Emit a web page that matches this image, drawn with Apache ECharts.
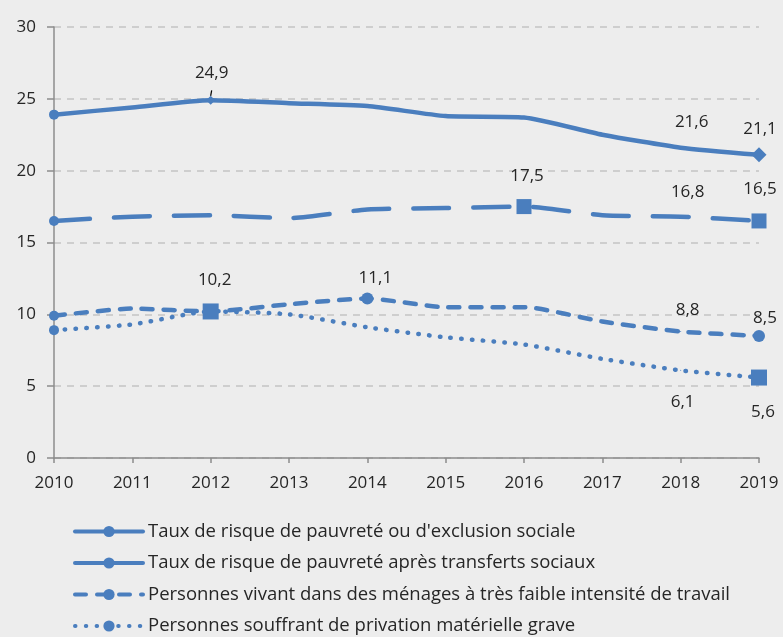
<!DOCTYPE html>
<html><head><meta charset="utf-8">
<script src="https://cdn.jsdelivr.net/npm/echarts@6/dist/echarts.min.js"></script>
<style>html,body{margin:0;padding:0;background:#ededed}#c{width:783px;height:637px}</style>
</head><body><div id="c"></div>
<script>
const years = ['2010','2011','2012','2013','2014','2015','2016','2017','2018','2019'];
const seriesNames = [
  "Taux de risque de pauvreté ou d'exclusion sociale",
  "Taux de risque de pauvreté après transferts sociaux",
  "Personnes vivant dans des ménages à très faible intensité de travail",
  "Personnes souffrant de privation matérielle grave"
];
const arope = [23.9, 24.4, 24.9, 24.7, 24.5, 23.8, 23.7, 22.5, 21.6, 21.1];
const povertyAfterTransfers = [16.5, 16.8, 16.9, 16.7, 17.3, 17.4, 17.5, 16.9, 16.8, 16.5];
const lowWorkIntensity = [9.9, 10.4, 10.2, 10.7, 11.1, 10.5, 10.5, 9.5, 8.8, 8.5];
const materialDeprivation = [8.9, 9.3, 10.2, 10.0, 9.1, 8.4, 7.9, 6.9, 6.1, 5.6];
const yTicks = [0, 5, 10, 15, 20, 25, 30];

const COLOR = '#4a7ebe';
const FONT = 'Open Sans';

// marker / label styling (not data)
const styles = [
  {line: {type: 'solid', width: 4.5}, markers: {0: ['circle', 10], 2: ['diamond', 9], 9: ['diamond', 15]},
   labels: {2: [1, -31, true], 8: [11, -26], 9: [1, -26]}},
  {line: {type: [36, 24], width: 4.5}, markers: {0: ['circle', 10], 6: ['rect', 15], 9: ['rect', 15]},
   labels: {6: [3, -30], 8: [7, -24], 9: [1, -32]}},
  {line: {type: [11, 11], width: 4.5}, markers: {0: ['circle', 10], 4: ['circle', 12], 9: ['circle', 12]},
   labels: {4: [8, -20], 8: [7, -21], 9: [6, -18]}},
  {line: {type: [0.5, 10.3], width: 4.5}, markers: {0: ['circle', 10], 2: ['rect', 16], 9: ['rect', 16]},
   labels: {2: [4, -31], 8: [2, 32], 9: [4, 35]}}
];
const values = [arope, povertyAfterTransfers, lowWorkIntensity, materialDeprivation];

function buildData(vals, st) {
  return vals.map((v, i) => {
    const item = {value: v};
    const m = st.markers[i];
    const l = st.labels[i];
    if (m) { item.symbol = m[0]; item.symbolSize = m[1]; }
    else if (l) { item.symbol = 'circle'; item.symbolSize = 1; }
    else { item.symbol = 'none'; }
    if (l) {
      item.label = {show: true, position: 'inside', offset: [l[0], l[1]]};
      if (l[2]) {
        item.label = {show: true, position: 'top', distance: 14, offset: [l[0], 0]};
        item.labelLine = {show: true, lineStyle: {color: '#000', width: 1.2}};
      }
    }
    return item;
  });
}

const series = values.map((vals, k) => ({
  name: seriesNames[k],
  type: 'line',
  smooth: 0.2,
  symbol: 'circle',
  symbolSize: 9,
  showAllSymbol: true,
  color: COLOR,
  lineStyle: {color: COLOR, width: styles[k].line.width, type: styles[k].line.type, cap: 'round', join: 'round'},
  itemStyle: {color: COLOR},
  label: {show: false, color: '#262626', fontFamily: FONT, fontSize: 17,
          formatter: p => p.value.toFixed(1).replace('.', ',')},
  emphasis: {disabled: true},
  data: buildData(vals, styles[k])
}));

const chart = echarts.init(document.getElementById('c'), null, {renderer: 'canvas'});
chart.setOption({
  backgroundColor: '#ededed',
  animation: false,
  grid: {left: 54, right: 24, top: 27, bottom: 179, containLabel: false},
  xAxis: {
    type: 'category', data: years, boundaryGap: false,
    axisLine: {lineStyle: {color: '#8c8c8c', width: 1.5}},
    axisTick: {show: true, length: 5, lineStyle: {color: '#8c8c8c', width: 1.5}},
    axisLabel: {color: '#262626', fontFamily: FONT, fontSize: 17, margin: 17}
  },
  yAxis: {
    type: 'value', min: yTicks[0], max: yTicks[yTicks.length - 1], interval: yTicks[1] - yTicks[0],
    axisLine: {show: true, lineStyle: {color: '#8c8c8c', width: 1.5}},
    axisTick: {show: true, length: 7, lineStyle: {color: '#8c8c8c', width: 1.5}},
    axisLabel: {color: '#262626', fontFamily: FONT, fontSize: 17, margin: 18},
    splitLine: {show: true, lineStyle: {color: '#c4c4c4', type: [7, 6], width: 1.5}}
  },
  legend: {
    orient: 'vertical', left: 68, top: 517, height: 300,
    itemWidth: 68, itemHeight: 14, itemGap: 12.5,
    lineStyle: {width: 4},
    textStyle: {color: '#262626', fontFamily: FONT, fontSize: 18.5},
    data: seriesNames.map((n, k) => k === 1 ? {name: n, lineStyle: {type: 'solid', width: 4}} : {name: n})
  },
  series: series
});
</script></body></html>
